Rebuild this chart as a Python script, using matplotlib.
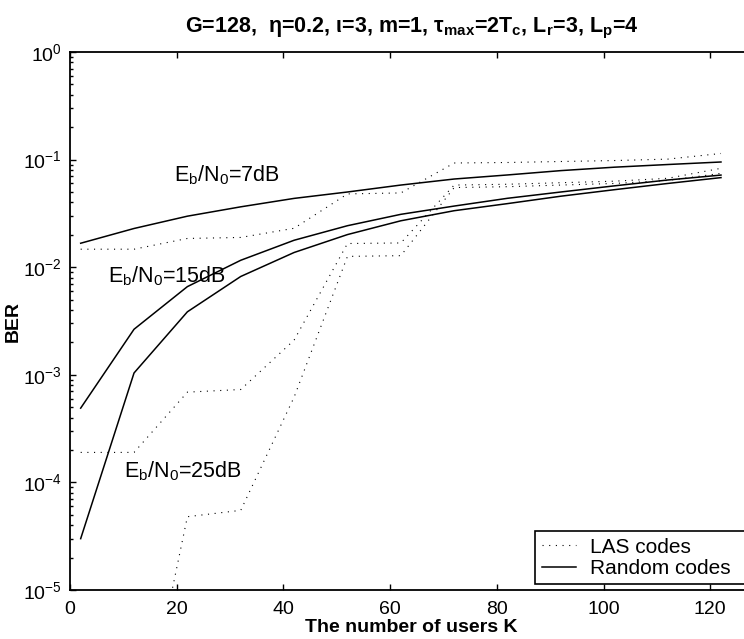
"""BER versus number of users K for LAS codes and random codes."""

import numpy as np
import matplotlib
matplotlib.use("Agg")
import matplotlib.pyplot as plt

plt.rcParams['font.family'] = ['Liberation Sans', 'DejaVu Sans']
plt.rcParams['mathtext.fontset'] = 'custom'
plt.rcParams['mathtext.rm'] = 'Liberation Sans'
plt.rcParams['mathtext.bf'] = 'Liberation Sans:bold'
plt.rcParams['mathtext.it'] = 'Liberation Sans:italic'
plt.rcParams['lines.scale_dashes'] = False

# number of users
users_k = [2, 12, 22, 32, 42, 52, 62, 72, 82, 92, 102, 112, 122]

# random codes (solid)
random_7db = [0.0167, 0.0229, 0.0298, 0.0364, 0.0436, 0.050, 0.058, 0.066, 0.072, 0.079, 0.085, 0.090, 0.095]
random_15db = [4.9e-4, 2.65e-3, 6.6e-3, 0.0116, 0.0178, 0.0243, 0.031, 0.037, 0.0437, 0.050, 0.057, 0.0646, 0.0718]
random_25db = [3.0e-5, 1.04e-3, 3.85e-3, 8.2e-3, 0.0137, 0.0201, 0.027, 0.0335, 0.039, 0.0457, 0.0525, 0.060, 0.068]

# LAS codes (dotted)
las_7db = [0.0147, 0.0147, 0.0185, 0.0189, 0.0230, 0.048, 0.049, 0.093, 0.094, 0.096, 0.098, 0.101, 0.114]
las_15db = [1.9e-4, 1.9e-4, 6.9e-4, 7.3e-4, 2.1e-3, 0.0166, 0.0168, 0.058, 0.059, 0.061, 0.063, 0.067, 0.083]
las_25db = [np.nan, 2.0e-7, 4.8e-5, 5.5e-5, 6.2e-4, 0.0126, 0.0128, 0.055, 0.056, 0.058, 0.060, 0.064, 0.0745]

dotted = (0, (0.8, 4.0))

fig = plt.figure(figsize=(7.44, 6.39), dpi=100)
# axes run slightly past the right edge of the picture, as in the original
ax = fig.add_axes([70 / 744, 49 / 639, 683 / 744, 538 / 639])

ax.plot(users_k, las_7db, color='black', lw=0.8, linestyle=dotted, label='LAS codes')
ax.plot(users_k, las_15db, color='black', lw=0.8, linestyle=dotted)
ax.plot(users_k, las_25db, color='black', lw=0.8, linestyle=dotted)
ax.plot(users_k, random_7db, color='black', lw=1.1, label='Random codes  ')
ax.plot(users_k, random_15db, color='black', lw=1.1)
ax.plot(users_k, random_25db, color='black', lw=1.1)

ax.set_yscale('log')
ax.set_xlim(0, 128)
ax.set_ylim(1e-5, 1)
ax.set_xticks([0, 20, 40, 60, 80, 100, 120])

for sp in ax.spines.values():
    sp.set_linewidth(1.3)
ax.tick_params(which='both', direction='in', top=True, right=True, labelsize=14, width=1.0)
ax.tick_params(which='major', length=4.5, pad=6)
ax.tick_params(which='minor', length=2.3)
ax.tick_params(axis='x', pad=8)

ax.text(19.4, 0.071, r'E$_\mathrm{b}$/N$_\mathrm{0}$=7dB', fontsize=15.5, va='center', ha='left')
ax.text(7.1, 0.0083, r'E$_\mathrm{b}$/N$_\mathrm{0}$=15dB', fontsize=15.5, va='center', ha='left')
ax.text(10.2, 1.26e-4, r'E$_\mathrm{b}$/N$_\mathrm{0}$=25dB', fontsize=15.5, va='center', ha='left')

ax.set_xlabel('The number of users K', fontsize=14, fontweight='bold', labelpad=1)
ax.set_ylabel('BER', fontsize=14, fontweight='bold')
ax.yaxis.set_label_coords(-0.071, 0.5)
ax.set_title(r'G=128,  η=0.2, ι=3, m=1, τ$_\mathbf{max}$=2T$_\mathbf{c}$, '
             r'L$_\mathbf{r}$=3, L$_\mathbf{p}$=4',
             fontsize=15.5, fontweight='bold', pad=14)

leg = ax.legend(loc='lower right', bbox_to_anchor=(0.9927, 0.011), borderaxespad=0,
                fontsize=15, handlelength=1.65, handletextpad=0.65, labelspacing=0.1,
                borderpad=0.3, fancybox=False, framealpha=1, edgecolor='black')
leg.get_frame().set_linewidth(1.2)

fig.savefig('out.png', dpi=100)
